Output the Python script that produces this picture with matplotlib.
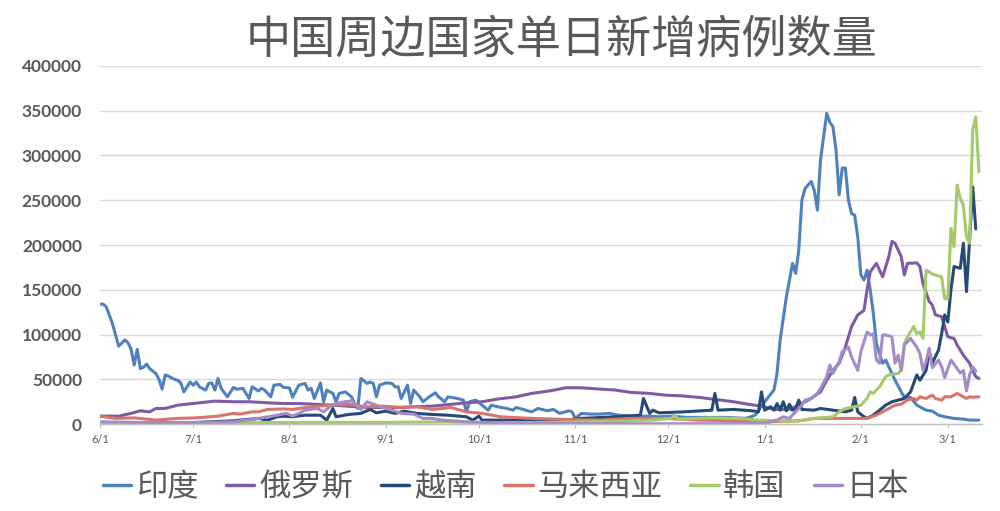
import matplotlib
matplotlib.use("Agg")
import matplotlib.pyplot as plt
import matplotlib.dates as mdates
import pandas as pd

plt.rcParams['font.family'] = ['Noto Sans CJK SC', 'DejaVu Sans']

START = pd.Timestamp('2021-06-01')
title = '中国周边国家单日新增病例数量'
series_names = ['印度', '俄罗斯', '越南', '马来西亚', '韩国', '日本']
colors = ['#4F81BD', '#7F5BA5', '#264A78', '#D9736C', '#A6C96A', '#A48CC6']
tick_dates = ['2021-06-01', '2021-07-01', '2021-08-01', '2021-09-01', '2021-10-01',
              '2021-11-01', '2021-12-01', '2022-01-01', '2022-02-01', '2022-03-01']
tick_labels = ['6/1', '7/1', '8/1', '9/1', '10/1', '11/1', '12/1', '1/1', '2/1', '3/1']
y_ticks = [0, 50000, 100000, 150000, 200000, 250000, 300000, 350000, 400000]

# days since 2021-06-01, and daily new cases
india_days = [0, 1, 2, 4, 6, 8, 9, 10, 11, 12, 13, 14, 15, 16, 18, 19, 20, 21, 22, 24, 25, 26, 27, 29,
              30, 31, 32, 34, 35, 36, 37, 38, 39, 41, 43, 44, 46, 48, 49, 51, 52, 53, 55, 56, 58, 59,
              61, 62, 64, 66, 67, 68, 69, 71, 72, 73, 75, 76, 77, 79, 81, 82, 83, 84, 86, 87, 88, 89,
              90, 92, 94, 95, 96, 97, 99, 100, 101, 103, 104, 106, 108, 109, 111, 112, 115, 117, 118,
              119, 121, 123, 125, 126, 128, 131, 133, 134, 137, 139, 141, 144, 146, 148, 151, 152, 153,
              155, 158, 161, 164, 167, 171, 176, 180, 184, 189, 195, 202, 208, 211, 214, 217, 218, 219,
              221, 223, 224, 225, 226, 227, 229, 230, 231, 232, 234, 235, 236, 237, 238, 239, 240, 241,
              242, 243, 244, 245, 246, 247, 248, 249, 250, 252, 253, 254, 256, 258, 259, 261, 263, 266,
              268, 270, 273, 275, 278, 280, 283]
india_vals = [134000, 134000, 131000, 112500, 87000, 94000, 91000, 84000, 66000, 83500, 62000, 63500,
              67000, 62000, 56500, 50000, 39000, 55000, 53600, 50000, 49000, 46000, 36000, 47000,
              43500, 47000, 41700, 38000, 45500, 46000, 38000, 51000, 40000, 30500, 41000, 39000,
              40000, 28700, 41700, 37000, 40000, 38000, 30500, 43500, 44300, 41000,
              40500, 30000, 43500, 45500, 38000, 40000, 28700, 46000, 25000, 38000, 34300, 25000,
              34300, 36000, 30500, 23000, 17500, 51000, 45500, 47000, 45500, 30500,
              43500, 46000, 45500, 41700, 41700, 28700, 43500, 23000, 38000, 30500, 25000, 30500,
              35000, 30500, 25000, 30500, 28700, 26800, 13700,
              25000, 26800, 21200, 15600, 21200, 19400, 17500, 15600, 18600, 15600, 13700, 17500,
              14900, 16400, 12000, 14900, 13700, 6400,
              12000, 11200, 11200, 12000, 10000, 8900, 8900, 8200, 8900, 7500, 7500, 7500, 6400,
              10000, 25000, 38000, 56600, 94000,
              142000, 179500, 168400, 194000, 250000, 263000, 271000, 261000, 239000, 295000, 347000,
              337000, 332000, 306000, 256000, 286000, 286000, 250000,
              235000, 233500, 209000, 166500, 161000, 172000, 150000, 124000, 90000, 68000, 71500,
              64000, 49000, 36000, 30000, 29800, 21200, 15600,
              14500, 10000, 7500, 6400, 5600, 4500, 4500]

russia_days = [0, 3, 6, 8, 10, 13, 16, 18, 21, 25, 28, 32, 37, 43, 48, 54, 59, 64, 75, 86, 96, 107,
               118, 123, 128, 134, 139, 145, 150, 155, 161, 166, 171, 177, 182, 187, 193, 198, 204,
               209, 213, 217, 222, 225, 227, 229, 232, 234, 236, 238, 240, 242, 244, 246, 247, 248,
               250, 251, 252, 254, 255, 256, 258, 259, 260, 263, 264, 265, 267, 268, 269, 271, 272,
               273, 275, 276, 278, 280, 281, 282, 283]
russia_vals = [8900, 9000, 8900, 10500, 12000, 14900, 13700, 17500, 17500, 21200, 22300, 23800, 25700,
               25000, 25000, 23800, 23000, 23000, 21200, 18600, 18600, 20100,
               23800, 25000, 28000, 30500, 34300, 37200, 40600, 40600, 39100, 38000, 35400, 34300,
               32400, 31600, 29800, 27600, 25000,
               22000, 20100, 16400, 16400, 21200, 25000, 28700, 36000, 49000, 60000, 68000, 86000,
               109000, 122000, 127000, 150000, 170000,
               179500, 172000, 164500, 187000, 204000, 202000, 187000, 166500, 179500, 180000, 176000,
               157000, 137000, 133000, 122000, 120000, 109000,
               97500, 95700, 88300, 77000, 68000, 60000, 53000, 51000]

vietnam_days = [0, 10, 20, 30, 35, 43, 47, 51, 54, 57, 59, 62, 66, 71, 73, 75, 76, 80, 84, 87, 89, 92,
                95, 98, 102, 107, 112, 118, 120, 122, 123, 129, 140, 150, 155, 166, 174, 175, 177, 178,
                180, 188, 197, 198, 199, 204, 210, 212, 213, 214, 216, 217, 218, 219, 220, 221, 222,
                223, 224, 225, 226, 230, 232, 236, 240, 242, 243, 244, 246, 247, 249, 251, 253, 255,
                257, 259, 261, 263, 264, 266, 267, 268, 270, 271, 272, 273, 274, 275, 277, 278, 279,
                280, 281, 282]
vietnam_vals = [1000, 1200, 1500, 1800, 2500, 3700, 5000, 6400, 4500, 8200, 8900, 8200, 10000, 10000,
                4500, 17500, 8200, 10800, 12000, 16400, 12600, 14500,
                12000, 14500, 12000, 10800, 10000, 8200, 4500, 8900, 4500, 4500, 4500, 4500, 6400, 8200,
                10000, 28700, 12000, 15600,
                12600, 13700, 15600, 34300, 15600, 16400, 14900, 13700, 36000, 15600, 19400, 15600,
                23000, 15600, 25000, 14900, 22300,
                15600, 17500, 26800, 16400, 15600, 17500, 15600, 13700, 15600, 29800, 13700, 8200, 6400,
                10000, 15600, 21200, 25000,
                26800, 28700, 36000, 55000, 49000, 60000, 81000, 68000, 82700, 101000, 122000, 114000,
                150000, 176000, 174000, 202000, 148000,
                205500, 265000, 218000]

malaysia_days = [0, 5, 11, 18, 25, 31, 38, 43, 45, 49, 51, 54, 59, 62, 64, 70, 75, 80, 84, 86, 91, 97,
                 102, 107, 113, 118, 123, 129, 139, 150, 161, 171, 182, 193, 204, 214, 225, 230, 236,
                 241, 247, 250, 253, 256, 258, 260, 262, 263, 264, 266, 268, 269, 271, 272, 274, 276,
                 278, 279, 280, 281, 283]
malaysia_vals = [8900, 6400, 7000, 4500, 6400, 7000, 8900, 12000, 11200, 13700, 13700, 16400, 17000,
                 16400, 17500, 20100, 21200, 22000, 20100, 19400, 20100, 18600,
                 19400, 16400, 18600, 13700, 12000, 8200, 6400, 5200, 4500, 6400, 6400, 4500, 3700, 2600,
                 3700, 6400, 6400,
                 6400, 6400, 10000, 15600, 21200, 22300, 26800, 28700, 26800, 30500, 28700, 32400, 28700,
                 26800, 30500, 30500, 34300,
                 30500, 28700, 30500, 30000, 30500]

korea_days = [0, 20, 37, 45, 60, 75, 90, 110, 125, 140, 152, 160, 170, 178, 184, 185, 186, 196, 206,
              212, 220, 225, 230, 236, 238, 240, 243, 245, 247, 248, 249, 251, 253, 254, 257, 258, 259,
              260, 262, 263, 264, 265, 266, 268, 269, 271, 272, 273, 274, 275, 276, 277, 278, 279, 280,
              281, 282, 283]
korea_vals = [500, 600, 1200, 1600, 1800, 2000, 1800, 2500, 1600, 1800, 2300, 3000, 3500, 4500, 6400,
              10000, 5600, 7000, 6400,
              4500, 3700, 3700, 6400, 8200, 13700, 17500, 19400, 21200, 28700, 36000, 34300, 41700,
              53000, 55000, 56600, 60000, 90000,
              97500, 109000, 101000, 103000, 95700, 172000, 167600, 166500, 164500, 140000, 140000,
              218600, 198000, 267000, 252000, 244700, 209000, 202000,
              328500, 343000, 282000]

japan_days = [0, 20, 35, 43, 49, 54, 57, 60, 62, 64, 66, 70, 72, 74, 76, 79, 81, 83, 84, 86, 88, 91,
              94, 97, 101, 104, 107, 110, 118, 128, 140, 160, 180, 200, 210, 214, 216, 218, 220, 222,
              224, 226, 227, 229, 231, 232, 234, 235, 236, 238, 239, 241, 242, 244, 245, 247, 248, 249,
              250, 251, 252, 253, 255, 256, 257, 258, 259, 261, 263, 264, 265, 266, 267, 268, 270,
              271, 272, 274, 275, 277, 278, 279, 280, 281, 282]
japan_vals = [2600, 1500, 2000, 2600, 5200, 8200, 10000, 12000, 9000, 12000, 15600, 17500, 13700,
              19400, 23000, 25000, 26000, 19400, 16400, 25000, 22300, 18600,
              15600, 12000, 11200, 6400, 6400, 4500, 2600, 1500, 800, 500, 400, 500, 800, 1000, 2600,
              4500, 8200, 6400,
              13700, 21200, 26800, 28700, 34300, 40000, 53000, 66000, 56600, 69600, 81000, 86000,
              75000, 60000, 81000, 103000, 99500, 101000,
              71500, 68000, 99500, 99500, 97500, 68000, 77000, 60000, 88300, 95700, 86000, 79000,
              60000, 70000, 84600, 63000, 71500,
              64000, 52000, 71500, 67000, 57000, 60000, 37000, 55000, 64000, 59000]

all_days = [india_days, russia_days, vietnam_days, malaysia_days, korea_days, japan_days]
all_vals = [india_vals, russia_vals, vietnam_vals, malaysia_vals, korea_vals, japan_vals]

fig = plt.figure(figsize=(10, 5.11), dpi=100)
ax = fig.add_axes([0.100, 0.170, 0.882, 0.701])

for name, days, vals, col in zip(series_names, all_days, all_vals, colors):
    dates = START + pd.to_timedelta(days, unit='D')
    ax.plot(dates, vals, color=col, lw=2.2, label=name,
            solid_joinstyle='round', solid_capstyle='round')

ax.set_ylim(0, 400000)
ax.set_xlim(START, START + pd.Timedelta(days=284))
ax.set_yticks(y_ticks)
ax.set_yticklabels([str(v) for v in y_ticks], fontfamily='Lato', fontweight='bold',
                   fontsize=12.5, color='#595959')
ax.tick_params(axis='y', length=0, pad=13)
ax.set_xticks(pd.to_datetime(tick_dates))
ax.set_xticklabels(tick_labels, fontfamily='Lato', fontsize=8, color='#595959')
ax.tick_params(axis='x', length=3, color='#BFBFBF', pad=4)

ax.grid(axis='y', color='#D9D9D9', lw=1)
ax.set_axisbelow(True)
for s in ['left', 'right', 'top']:
    ax.spines[s].set_visible(False)
ax.spines['bottom'].set_color('#BFBFBF')
ax.spines['bottom'].set_linewidth(1)

fig.text(0.562, 0.922, title, ha='center', va='center', fontsize=32.5, color='#595959')

leg = fig.legend(loc='center', bbox_to_anchor=(0.506, 0.047), ncol=6, frameon=False,
                 fontsize=22.5, handlelength=0.9, handletextpad=0.15, columnspacing=0.9,
                 borderaxespad=0)
for t in leg.get_texts():
    t.set_color('#595959')
for h in leg.get_lines():
    h.set_linewidth(2.5)

fig.savefig('out.png', dpi=100)
